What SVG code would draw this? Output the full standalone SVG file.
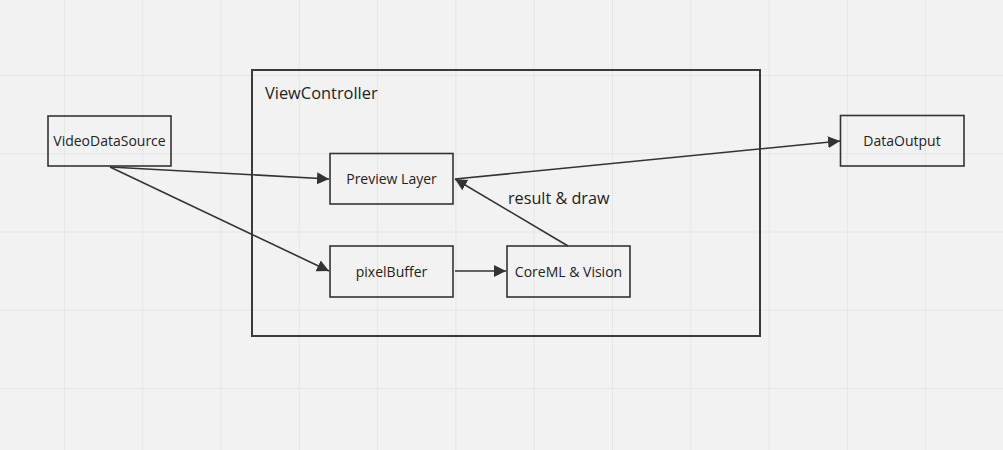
<svg xmlns="http://www.w3.org/2000/svg" width="1003" height="450" viewBox="0 0 1003 450">
<style>
.node rect{fill:none;stroke:#333;stroke-width:1.6}
.lbl{font-family:"Open Sans","Liberation Sans",sans-serif;font-size:14px;fill:#222;text-anchor:middle}
.conn line{stroke:#333;stroke-width:1.6}
.grid line{stroke:#e6e6e6;stroke-width:1}
</style>
<defs>
<marker id="ah" viewBox="0 0 12 12" refX="12" refY="6" markerWidth="12" markerHeight="12" markerUnits="userSpaceOnUse" orient="auto">
<path d="M0,0 L12,6 L0,12 Z" fill="#333"/>
</marker>
</defs>
<rect width="1003" height="450" fill="#f2f2f2"/>
<g class="grid">
<line x1="64.5" y1="0" x2="64.5" y2="450"/>
<line x1="142.8" y1="0" x2="142.8" y2="450"/>
<line x1="221" y1="0" x2="221" y2="450"/>
<line x1="299.3" y1="0" x2="299.3" y2="450"/>
<line x1="377.6" y1="0" x2="377.6" y2="450"/>
<line x1="455.9" y1="0" x2="455.9" y2="450"/>
<line x1="534.2" y1="0" x2="534.2" y2="450"/>
<line x1="612.5" y1="0" x2="612.5" y2="450"/>
<line x1="690.8" y1="0" x2="690.8" y2="450"/>
<line x1="769.1" y1="0" x2="769.1" y2="450"/>
<line x1="847.4" y1="0" x2="847.4" y2="450"/>
<line x1="925.7" y1="0" x2="925.7" y2="450"/>
<line x1="0" y1="75.5" x2="1003" y2="75.5"/>
<line x1="0" y1="153.8" x2="1003" y2="153.8"/>
<line x1="0" y1="232" x2="1003" y2="232"/>
<line x1="0" y1="310.3" x2="1003" y2="310.3"/>
<line x1="0" y1="388.6" x2="1003" y2="388.6"/>
</g>
<g id="viewController" class="node">
<rect x="252" y="70" width="508" height="266" style="stroke:#3a3a3a;stroke-width:2"/>
<text x="265" y="99" class="lbl" style="text-anchor:start;font-size:16.4px">ViewController</text>
</g>
<g id="videoDataSource" class="node">
<rect x="48" y="116" width="123" height="50"/>
<text x="109.5" y="146" class="lbl">VideoDataSource</text>
</g>
<g id="previewLayer" class="node">
<rect x="330" y="153.5" width="123" height="50.5"/>
<text x="391.5" y="184" class="lbl">Preview Layer</text>
</g>
<g id="pixelBuffer" class="node">
<rect x="330" y="246" width="123" height="51"/>
<text x="391.5" y="276.5" class="lbl">pixelBuffer</text>
</g>
<g id="coreMLVision" class="node">
<rect x="507" y="246" width="123" height="51"/>
<text x="568.5" y="276.5" class="lbl">CoreML &amp; Vision</text>
</g>
<g id="dataOutput" class="node">
<rect x="840.5" y="115.5" width="123.5" height="50.5"/>
<text x="902" y="146" class="lbl">DataOutput</text>
</g>
<g id="connectors" class="conn">
<line x1="110" y1="167" x2="329" y2="179" marker-end="url(#ah)"/>
<line x1="110" y1="167" x2="329" y2="271" marker-end="url(#ah)"/>
<line x1="455" y1="271" x2="506" y2="271" marker-end="url(#ah)"/>
<line x1="568" y1="246" x2="455" y2="179" marker-end="url(#ah)"/>
<line x1="455" y1="179" x2="840" y2="141" marker-end="url(#ah)"/>
<text x="508" y="204" class="lbl" style="text-anchor:start;font-size:16.2px">result &amp; draw</text>
</g>
</svg>
